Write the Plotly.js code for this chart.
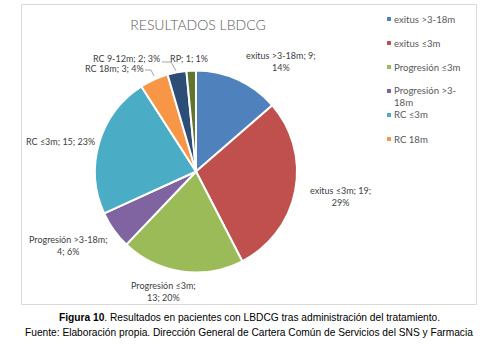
<!DOCTYPE html>
<html>
<head>
<meta charset="utf-8">
<script src="https://cdn.plot.ly/plotly-3.0.1.min.js"></script>
<style>html,body{margin:0;padding:0;background:#fff;}#chart{width:484px;height:349px;}</style>
</head>
<body>
<div id="chart"></div>
<script>
// ---- data ----
const labels = ['exitus >3-18m', 'exitus ≤3m', 'Progresión ≤3m', 'Progresión >3-18m', 'RC ≤3m', 'RC 18m', 'RC 9-12m', 'RP'];
const values = [9, 19, 13, 4, 15, 3, 2, 1];
const percents = ['14%', '29%', '20%', '6%', '23%', '4%', '3%', '1%'];
const colors = ['#4F81BD', '#C0504D', '#9BBB59', '#8064A2', '#4BACC6', '#F79646', '#2C4D75', '#5F7530'];
const titleText = 'RESULTADOS LBDCG';
const caption1 = '<b>Figura 10</b>. Resultados en pacientes con LBDCG tras administración del tratamiento.';
const caption2 = 'Fuente: Elaboración propia. Dirección General de Cartera Común de Servicios del SNS y Farmacia';
const legendCount = 6; // legend is truncated in the original
const legendText = ['exitus >3-18m', 'exitus ≤3m', 'Progresión ≤3m', 'Progresión >3-<br>18m', 'RC ≤3m', 'RC 18m'];

// ---- layout helpers (pixel -> paper) ----
const W = 484, H = 349;
const xp = px => px / W;
const yp = py => 1 - py / H;

// label placement: [centerX, centerY, break after n-th separator (0 = none)]
const labelPos = [
  [281, 62, 2], [340, 196, 2], [163, 291, 1], [68, 245, 1],
  [60, 141, 0], [114, 68, 0], [126, 58, 0], [189, 58, 0]
];
const legendY = [19, 43, 67, 91, 115, 139];

function labelText(i) {
  const parts = [labels[i], String(values[i]), percents[i]];
  const br = labelPos[i][2];
  let s = '';
  parts.forEach((p, k) => {
    s += p;
    if (k < parts.length - 1) s += (k + 1 === br) ? ';<br>' : '; ';
  });
  return s;
}

const lblFont = {family: 'Lato, "Open Sans", sans-serif', size: 9, color: '#404040'};
const legFont = {family: 'Lato, "Open Sans", sans-serif', size: 9.6, color: '#595959'};

const annotations = [];
labels.forEach((l, i) => {
  annotations.push({
    x: xp(labelPos[i][0]), y: yp(labelPos[i][1]), xref: 'paper', yref: 'paper',
    text: labelText(i), showarrow: false, xanchor: 'center', yanchor: 'middle',
    font: lblFont, align: 'center'
  });
});

const shapes = [
  {type: 'rect', xref: 'paper', yref: 'paper', x0: xp(21.5), x1: xp(476.5), y0: yp(304.5), y1: yp(4.5),
   line: {color: '#D9D9D9', width: 1}, fillcolor: 'rgba(0,0,0,0)'},
  // leader lines
  {type: 'path', xref: 'paper', yref: 'paper',
   path: `M ${xp(145)} ${yp(70)} L ${xp(151)} ${yp(70)} L ${xp(154)} ${yp(76)}`,
   line: {color: '#A6A6A6', width: 1}},
  {type: 'path', xref: 'paper', yref: 'paper',
   path: `M ${xp(162)} ${yp(62)} L ${xp(171)} ${yp(62)} L ${xp(176)} ${yp(71)}`,
   line: {color: '#A6A6A6', width: 1}}
];

for (let i = 0; i < legendCount; i++) {
  const cy = legendY[i];
  shapes.push({type: 'rect', xref: 'paper', yref: 'paper',
    x0: xp(387), x1: xp(391), y0: yp(cy + 2), y1: yp(cy - 2),
    fillcolor: colors[i], line: {width: 0}});
  annotations.push({
    x: xp(393), y: yp(cy - 6.5), xref: 'paper', yref: 'paper',
    text: legendText[i], showarrow: false, xanchor: 'left', yanchor: 'top',
    font: legFont, align: 'left', borderpad: 0
  });
}

annotations.push({x: xp(249), y: yp(317), xref: 'paper', yref: 'paper', text: caption1,
  showarrow: false, xanchor: 'center', yanchor: 'middle',
  font: {family: '"Liberation Sans", Arial, sans-serif', size: 10.2, color: '#000'}});
annotations.push({x: xp(249), y: yp(332), xref: 'paper', yref: 'paper', text: caption2,
  showarrow: false, xanchor: 'center', yanchor: 'middle',
  font: {family: '"Liberation Sans", Arial, sans-serif', size: 10.2, color: '#000'}});

const trace = {
  type: 'pie',
  labels: labels,
  values: values,
  sort: false,
  direction: 'clockwise',
  rotation: 0,
  textinfo: 'none',
  hoverinfo: 'label+value+percent',
  marker: {colors: colors, line: {color: '#FFFFFF', width: 2}},
  domain: {x: [xp(95), xp(297)], y: [yp(273), yp(70)]},
  showlegend: false
};

const layout = {
  width: W, height: H,
  margin: {l: 0, r: 0, t: 0, b: 0},
  paper_bgcolor: '#FFFFFF',
  showlegend: false,
  title: {text: titleText, x: xp(198), xanchor: 'center', y: yp(25), yanchor: 'middle',
          font: {family: 'Lato, "Open Sans", sans-serif', size: 14, color: '#595959', weight: 300}},
  annotations: annotations,
  shapes: shapes
};

Plotly.newPlot('chart', [trace], layout, {displayModeBar: false, staticPlot: true});
</script>
</body>
</html>
